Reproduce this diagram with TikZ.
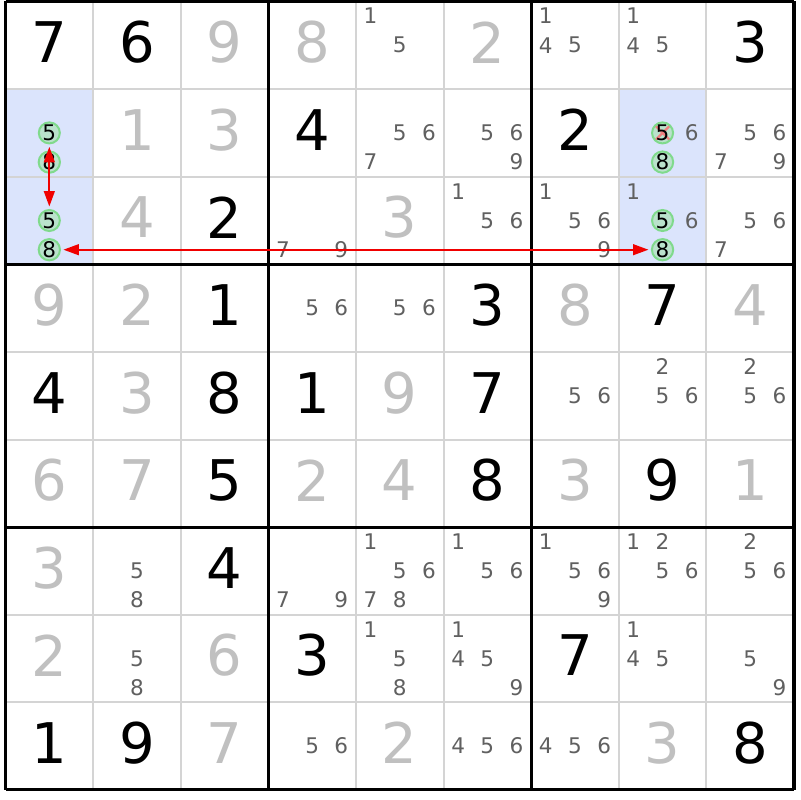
\documentclass[tikz,border=0pt]{standalone}
\usepackage{fontspec}
\setmainfont{DejaVu Sans}
\usetikzlibrary{arrows.meta}
\definecolor{solvedgray}{RGB}{192,192,192}
\definecolor{pencilgray}{RGB}{96,96,96}
\definecolor{gridgray}{RGB}{212,212,212}
\definecolor{hiliteblue}{RGB}{219,228,252}
\definecolor{candfill}{RGB}{186,226,204}
\definecolor{candline}{RGB}{128,218,140}
\definecolor{elimred}{RGB}{240,128,128}
\definecolor{linkred}{RGB}{240,0,0}
\begin{document}
\begin{tikzpicture}[
  given/.style={font=\fontsize{18.2}{20}\selectfont, text=black, inner sep=0pt, yshift=1pt},
  solved/.style={given, text=solvedgray},
  pencil/.style={font=\fontsize{7}{8}\selectfont, text=pencilgray, inner sep=0pt},
  cand/.style={pencil, text=black, circle, draw=candline, fill=candfill, line width=0.65pt, minimum size=0.225cm},
  elim/.style={cand, path picture={\draw[elimred, line width=0.75pt]
      (path picture bounding box.north west) -- (path picture bounding box.south east)
      (path picture bounding box.north east) -- (path picture bounding box.south west);}},
  link/.style={linkred, line width=0.6pt, {Triangle[length=5pt,width=3.5pt]}-{Triangle[length=5pt,width=3.5pt]}, shorten <=0.8pt, shorten >=0.8pt}
]
\useasboundingbox[fill=white] (-0.063,0.017) rectangle (9.069,-9.115);
% highlighted cells
\fill[hiliteblue] (0,-1) rectangle (1,-3);
\fill[hiliteblue] (7,-1) rectangle (8,-3);
% grid
\foreach \i in {1,2,4,5,7,8} {
  \draw[gridgray, line width=0.65pt] (\i,0) -- (\i,-9);
  \draw[gridgray, line width=0.65pt] (0,-\i) -- (9,-\i);
}
\foreach \i in {0,3,6,9} {
  \draw[line width=1pt] (\i,0) -- (\i,-9);
  \draw[line width=1pt] (0,-\i) -- (9,-\i);
}
% givens
\foreach \row/\col/\d in {1/1/7, 1/2/6, 1/9/3, 2/4/4, 2/7/2, 3/3/2,
    4/3/1, 4/6/3, 4/8/7, 5/1/4, 5/3/8, 5/4/1, 5/6/7, 6/3/5, 6/6/8, 6/8/9,
    7/3/4, 8/4/3, 8/7/7, 9/1/1, 9/2/9, 9/9/8}
  \node[given] (v\row\col) at (\col-0.5,0.5-\row) {\d};
% solved cells
\foreach \row/\col/\d in {1/3/9, 1/4/8, 1/6/2, 2/2/1, 2/3/3, 3/2/4, 3/5/3,
    4/1/9, 4/2/2, 4/7/8, 4/9/4, 5/2/3, 5/5/9, 6/1/6, 6/2/7, 6/4/2, 6/5/4,
    6/7/3, 6/9/1, 7/1/3, 8/1/2, 8/3/6, 9/3/7, 9/5/2, 9/8/3}
  \node[solved] (v\row\col) at (\col-0.5,0.5-\row) {\d};
% pencil marks
\foreach \row/\col/\ds in {1/5/{1,5}, 1/7/{1,4,5}, 1/8/{1,4,5},
    2/5/{5,6,7}, 2/6/{5,6,9}, 2/8/{6}, 2/9/{5,6,7,9},
    3/4/{7,9}, 3/6/{1,5,6}, 3/7/{1,5,6,9}, 3/8/{1,6}, 3/9/{5,6,7},
    4/4/{5,6}, 4/5/{5,6}, 5/7/{5,6}, 5/8/{2,5,6}, 5/9/{2,5,6},
    7/2/{5,8}, 7/4/{7,9}, 7/5/{1,5,6,7,8}, 7/6/{1,5,6}, 7/7/{1,5,6,9},
    7/8/{1,2,5,6}, 7/9/{2,5,6}, 8/2/{5,8}, 8/5/{1,5,8}, 8/6/{1,4,5,9},
    8/8/{1,4,5}, 8/9/{5,9}, 9/4/{5,6}, 9/6/{4,5,6}, 9/7/{4,5,6}}
  \foreach \d in \ds {
    \pgfmathsetmacro\px{\col-1+(2*mod(\d-1,3)+1)/6}
    \pgfmathsetmacro\py{1-\row-(2*int((\d-1)/3)+1)/6}
    \node[pencil] (p\row\col\d) at (\px,\py) {\d};
  }
% chain candidates
\foreach \row/\col/\d in {2/1/5, 2/1/8, 3/1/5, 3/1/8, 2/8/8, 3/8/5, 3/8/8} {
  \pgfmathsetmacro\px{\col-1+(2*mod(\d-1,3)+1)/6}
  \pgfmathsetmacro\py{1-\row-(2*int((\d-1)/3)+1)/6}
  \node[cand] (k\row\col\d) at (\px,\py) {\d};
}
\node[elim] (k285) at (7.5,-1.5) {5};
% links
\draw[link] (k215) -- (k315);
\draw[link] (k318) -- (k388);
\end{tikzpicture}
\end{document}
